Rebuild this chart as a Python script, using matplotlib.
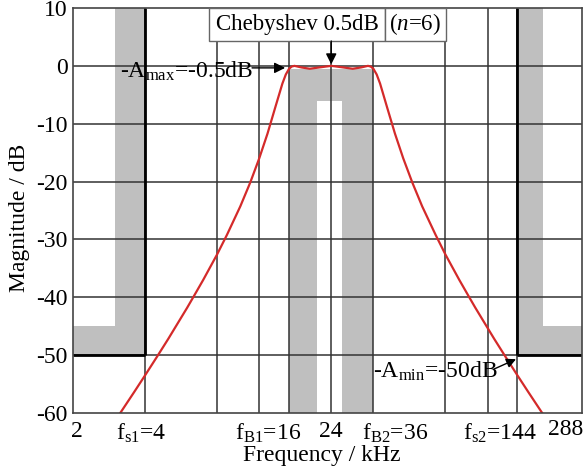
import matplotlib
matplotlib.use("Agg")
import matplotlib.pyplot as plt
from matplotlib.patches import Rectangle
import matplotlib.transforms as mtransforms

# ---------------- data ----------------
freq_khz = [3.0, 3.14, 3.6, 4.0, 4.5, 5.0, 6.0, 6.4, 7.0, 8.0, 8.8, 10.0, 11.0,
            12.0, 13.0, 14.0, 15.0, 15.5, 16.0, 16.4, 16.85, 18.0, 19.52, 21.5,
            24.0, 26.8, 29.5, 32.0, 34.18, 35.1, 36.0, 37.16, 38.4, 41.1, 44.3,
            48.0, 52.4, 57.6, 65.5, 72.0, 82.3, 90.0, 96.0, 115.2, 128.0, 144.0,
            160.0, 183.4, 192.0]
magnitude_db = [-61.4, -60.1, -56.4, -53.5, -50.2, -47.2, -41.8, -39.8, -37.0,
                -32.6, -29.2, -24.3, -20.2, -16.0, -11.7, -7.2, -3.06, -1.49,
                -0.5, -0.12, 0.0, -0.27, -0.5, -0.26, 0.0, -0.26, -0.5, -0.27,
                0.0, -0.12, -0.5, -1.49, -3.06, -7.2, -11.7, -16.0, -20.2, -24.3,
                -29.2, -32.6, -37.0, -39.8, -41.8, -47.2, -50.2, -53.5, -56.4,
                -60.1, -61.4]

f_s1, f_s2 = 4.0, 144.0
f_B1, f_B2 = 16.0, 36.0
f_center = 24.0
stop1_band = [3.0, 4.0]
stop2_band = [144.0, 185.0]
pass_cutout = [20.9, 26.6]
A_max = -0.5
A_min = -50.0
stop_shoulder = -45.0
cutout_top = -6.0

grid_freqs = [4, 8, 12, 16, 24, 36, 72, 108, 144]
grid_levels = [0, -10, -20, -30, -40, -50]

xtick_values = [2, 4, 16, 24, 36, 144]
xtick_labels = ["2", r"f$_{\mathrm{s1}}$=4", r"f$_{\mathrm{B1}}$=16", "24",
                r"f$_{\mathrm{B2}}$=36", r"f$_{\mathrm{s2}}$=144"]
xtick_last_label = "288"
xtick_shift_px = [4, -4, -21, 0, 22, -18]
ytick_values = [10, 0, -10, -20, -30, -40, -50, -60]

# ---------------- style ----------------
plt.rcParams["font.family"] = ["Liberation Serif", "DejaVu Serif"]
plt.rcParams["mathtext.fontset"] = "custom"
plt.rcParams["mathtext.rm"] = "Liberation Serif"
plt.rcParams["mathtext.it"] = "Liberation Serif:italic"
FS = 17
GRAY = "#bfbfbf"
GRID = "#333333"
RED = "#d42a2a"

fig = plt.figure(figsize=(5.88, 4.72), dpi=100)
ax = fig.add_axes([73 / 588, 1 - 413 / 472, 509 / 588, 405 / 472])
ax.set_xscale("log")
ax.set_xlim(2, 268)
ax.set_ylim(-60, 10)
ax.minorticks_off()

# gray tolerance regions
ax.add_patch(Rectangle((stop1_band[0], A_min), stop1_band[1] - stop1_band[0], 10 - A_min,
                       fc=GRAY, ec="none", zorder=0))
ax.add_patch(Rectangle((2, A_min), stop1_band[1] - 2, stop_shoulder - A_min,
                       fc=GRAY, ec="none", zorder=0))
ax.add_patch(Rectangle((stop2_band[0], A_min), stop2_band[1] - stop2_band[0], 10 - A_min,
                       fc=GRAY, ec="none", zorder=0))
ax.add_patch(Rectangle((stop2_band[0], A_min), 400 - stop2_band[0], stop_shoulder - A_min,
                       fc=GRAY, ec="none", zorder=0))
ax.add_patch(Rectangle((f_B1, -70), f_B2 - f_B1, A_max + 70, fc=GRAY, ec="none", zorder=0))
ax.add_patch(Rectangle((pass_cutout[0], -70), pass_cutout[1] - pass_cutout[0], cutout_top + 70,
                       fc="white", ec="none", zorder=0.5))

# grid
ax.vlines(grid_freqs, -60, 10, colors=GRID, lw=1.1, zorder=1)
ax.hlines(grid_levels, 2, 400, colors=GRID, lw=1.1, zorder=1)

# stop-band limit lines
ax.vlines([f_s1, f_s2], A_min, 10, colors="black", lw=2.0, zorder=2)
ax.hlines(A_min, 2, f_s1, colors="black", lw=2.0, zorder=2)
ax.hlines(A_min, f_s2, 400, colors="black", lw=2.0, zorder=2)

# response curve
ax.plot(freq_khz, magnitude_db, color=RED, lw=1.6, zorder=4, clip_on=True)

# spines / ticks
for s in ax.spines.values():
    s.set_color("#444444")
    s.set_linewidth(1.2)
    s.set_zorder(6)
ax.set_yticks(ytick_values)
ax.set_yticklabels([str(v) for v in ytick_values])
ax.set_xticks(xtick_values)
ax.set_xticklabels(xtick_labels)
ax.tick_params(length=0, labelsize=FS, pad=4)
ax.tick_params(axis="x", pad=6)
for lab, dx in zip(ax.get_xticklabels(), xtick_shift_px):
    lab.set_transform(lab.get_transform() +
                      mtransforms.ScaledTranslation(dx / 100, 0, fig.dpi_scale_trans))
ax.text((566 - 73) / 509, -6 / 405, xtick_last_label, transform=ax.transAxes,
        ha="center", va="top", fontsize=FS)

ax.set_xlabel("Frequency / kHz", fontsize=FS)
ax.xaxis.set_label_coords((322 - 73) / 509, -32 / 405)
ax.set_ylabel("Magnitude / dB", fontsize=FS)
ax.yaxis.set_label_coords((30 - 73) / 509, 1 - (218 - 8) / 405)

# title boxes
box_y0 = 1 - (41 - 8) / 405
box_h = 33 / 405
ax.add_patch(Rectangle(((209 - 73) / 509, box_y0), 176 / 509, box_h, transform=ax.transAxes,
                       fc="white", ec="#666666", lw=1.0, zorder=7, clip_on=False))
ax.add_patch(Rectangle(((385 - 73) / 509, box_y0), 61 / 509, box_h, transform=ax.transAxes,
                       fc="white", ec="#666666", lw=1.0, zorder=7, clip_on=False))
ax.text((297.5 - 73) / 509, box_y0 + box_h / 2, "Chebyshev 0.5dB", transform=ax.transAxes,
        ha="center", va="center", fontsize=16.5, zorder=8)
ax.text((415.5 - 73) / 509, box_y0 + box_h / 2, r"($\it{n}$=6)", transform=ax.transAxes,
        ha="center", va="center", fontsize=16.5, zorder=8)
ax.annotate("", xy=(f_center, 0.25), xytext=(f_center, 4.3),
            arrowprops=dict(arrowstyle="-|>", color="black", lw=1.0,
                            mutation_scale=16, shrinkA=0, shrinkB=0), zorder=8)

# A_max annotation
ax.text(3.14, -2.1, r"-A$_{\mathrm{max}}$=-0.5dB", ha="left", va="baseline",
        fontsize=FS, zorder=8)
ax.annotate("", xy=(15.4, -0.35), xytext=(11.2, -0.35),
            arrowprops=dict(arrowstyle="-|>", color="black", lw=1.0,
                            mutation_scale=16, shrinkA=0, shrinkB=0), zorder=8)

# A_min annotation
ax.text(35.9, -53.9, r"-A$_{\mathrm{min}}$=-50dB", ha="left", va="baseline",
        fontsize=FS, zorder=8)
ax.annotate("", xy=(142, -50.7), xytext=(115, -52.4),
            arrowprops=dict(arrowstyle="-|>", color="black", lw=1.0,
                            mutation_scale=14, shrinkA=0, shrinkB=0), zorder=8)

fig.savefig("out.png", dpi=100)
